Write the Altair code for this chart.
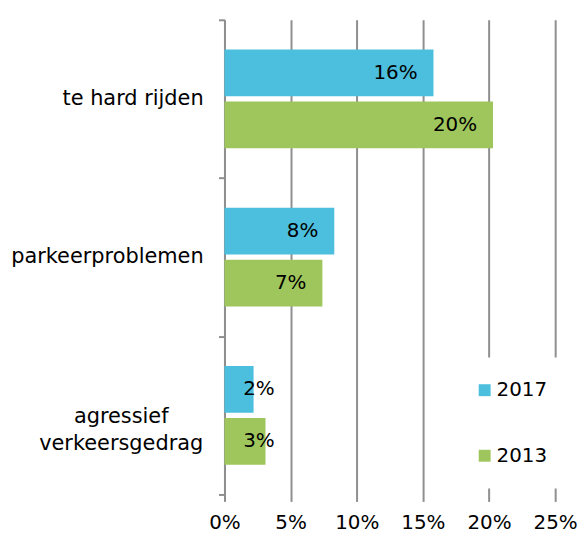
import altair as alt
import pandas as pd

categories = ["te hard rijden", "parkeerproblemen", "agressief verkeersgedrag"]
category_lines = ["te hard rijden", "parkeerproblemen", "agressief\nverkeersgedrag"]
years = ["2017", "2013"]
values_2017 = [0.158, 0.083, 0.022]
values_2013 = [0.203, 0.074, 0.031]
x_ticks = [0, 0.05, 0.10, 0.15, 0.20, 0.25]
colors = ["#4bbfdd", "#9fc65c"]

rows = []
for c, v17, v13 in zip(categories, values_2017, values_2013):
    rows.append({"categorie": c, "jaar": "2017", "waarde": v17})
    rows.append({"categorie": c, "jaar": "2013", "waarde": v13})
df = pd.DataFrame(rows)
cat_df = pd.DataFrame({"categorie": categories, "tekst": category_lines,
                       "meerregelig": [("\n" in t) for t in category_lines]})

FONT = "DejaVu Sans"
GRID = "#8f8f8f"

y_enc = alt.Y(
    "categorie:N",
    sort=categories,
    scale=alt.Scale(paddingInner=0, paddingOuter=0),
    axis=alt.Axis(
        title=None, labels=False, tickSize=6, tickColor=GRID, tickWidth=2,
        domainColor=GRID, domainWidth=2, tickBand="extent", grid=False,
    ),
)
yoff = alt.YOffset("jaar:N", sort=years, scale=alt.Scale(paddingInner=0.1, paddingOuter=0.575))

x_enc = alt.X(
    "waarde:Q",
    scale=alt.Scale(domain=[0, 0.25], nice=False),
    axis=alt.Axis(
        title=None, values=x_ticks, format=".0%", labelFontSize=20, labelColor="#000",
        labelFont=FONT, domain=False, grid=True, gridColor=GRID, gridWidth=2,
        tickColor=GRID, tickWidth=2, tickSize=7, labelPadding=11, labelOverlap=False,
        labelFlush=False,
    ),
)

bars = alt.Chart(df).mark_bar().encode(
    x=x_enc,
    y=y_enc,
    yOffset=yoff,
    color=alt.Color(
        "jaar:N",
        scale=alt.Scale(domain=years, range=colors),
        legend=alt.Legend(
            orient="none", legendX=229, legendY=340, title=None, fillColor="white",
            padding=23, symbolType="square", symbolSize=144, symbolStrokeWidth=0,
            labelFontSize=20, labelFont=FONT, labelColor="#000", rowPadding=46,
            labelOffset=2,
        ),
    ),
)

labels = alt.Chart(df).transform_calculate(
    pos="max(datum.waarde, 0.05)",
    lbl="format(datum.waarde, '.0%')",
).mark_text(align="right", baseline="middle", dx=-16, fontSize=20, font=FONT, color="#000").encode(
    x="pos:Q",
    y=alt.Y("categorie:N", sort=categories),
    yOffset=alt.YOffset("jaar:N", sort=years),
    text="lbl:N",
)

ylab_single = alt.Chart(cat_df).transform_filter("!datum.meerregelig").mark_text(
    align="right", baseline="middle", fontSize=21, font=FONT, color="#000"
).encode(
    x=alt.value(-21),
    y=alt.Y("categorie:N", sort=categories),
    text="tekst:N",
)

ylab_multi = alt.Chart(cat_df).transform_filter("datum.meerregelig").mark_text(
    align="center", baseline="middle", fontSize=21, font=FONT, color="#000",
    lineBreak="\n", lineHeight=27, dy=2,
).encode(
    x=alt.value(-104),
    y=alt.Y("categorie:N", sort=categories),
    text="tekst:N",
)

chart = (
    alt.layer(bars, labels, ylab_single, ylab_multi)
    .properties(
        width=333, height=478,
        autosize=alt.AutoSizeParams(type="none"),
        padding={"left": 218, "top": 10, "right": 24, "bottom": 46},
    )
    .configure_view(stroke=None)
)

chart.save("out.html", embed_options={"renderer": "svg", "actions": False})
